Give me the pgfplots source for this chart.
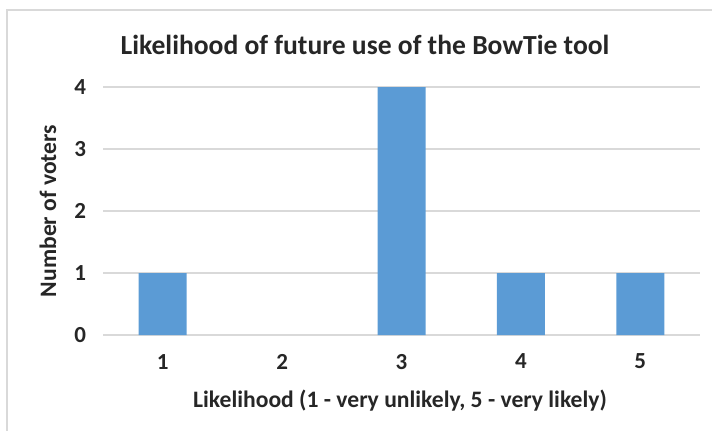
\documentclass[border=0pt]{standalone}
\usepackage{pgfplots}
\pgfplotsset{compat=1.18}
\usepackage{fontspec}
\setmainfont{Carlito}
\definecolor{barblue}{HTML}{5B9BD5}
\definecolor{gridgray}{HTML}{D9D9D9}
\definecolor{txt}{HTML}{262626}
\begin{document}
\begin{tikzpicture}
\useasboundingbox (0,0) rectangle (356pt,215pt);
\draw[gridgray, line width=0.6pt] (3.5pt,-5pt) -- (3.5pt,210pt) -- (360pt,210pt);
\begin{axis}[
  at={(51.5pt,47.5pt)}, anchor=south west,
  scale only axis, width=298.5pt, height=124pt,
  xmin=0.5, xmax=5.5, ymin=0, ymax=4,
  xtick={1,2,3,4,5}, ytick={0,1,2,3,4},
  axis x line*=bottom, axis y line*=left,
  x axis line style={gridgray, line width=0.8pt},
  y axis line style={draw=none},
  ymajorgrids, grid style={gridgray, line width=0.8pt},
  major tick length=0pt,
  tick label style={font=\bfseries\fontsize{11.5pt}{13pt}\selectfont, text=txt},
  /pgf/number format/assume math mode=true,
  yticklabel style={xshift=-5pt},
  xticklabel style={yshift=-6pt},
  ybar, bar width=24pt,
  clip=false,
]
\addplot[fill=barblue, draw=none] coordinates {(1,1) (3,4) (4,1) (5,1)};
\end{axis}
\node[font=\bfseries\fontsize{13.8pt}{16pt}\selectfont, text=txt] at (182.5pt,192.5pt) {Likelihood of future use of the BowTie tool};
\node[font=\bfseries\fontsize{11.8pt}{14pt}\selectfont, text=txt, rotate=90] at (24pt,109.5pt) {Number of voters};
\node[font=\bfseries\fontsize{11.8pt}{14pt}\selectfont, text=txt] at (200pt,14.5pt) {Likelihood (1 - very unlikely, 5 - very likely)};
\end{tikzpicture}
\end{document}
